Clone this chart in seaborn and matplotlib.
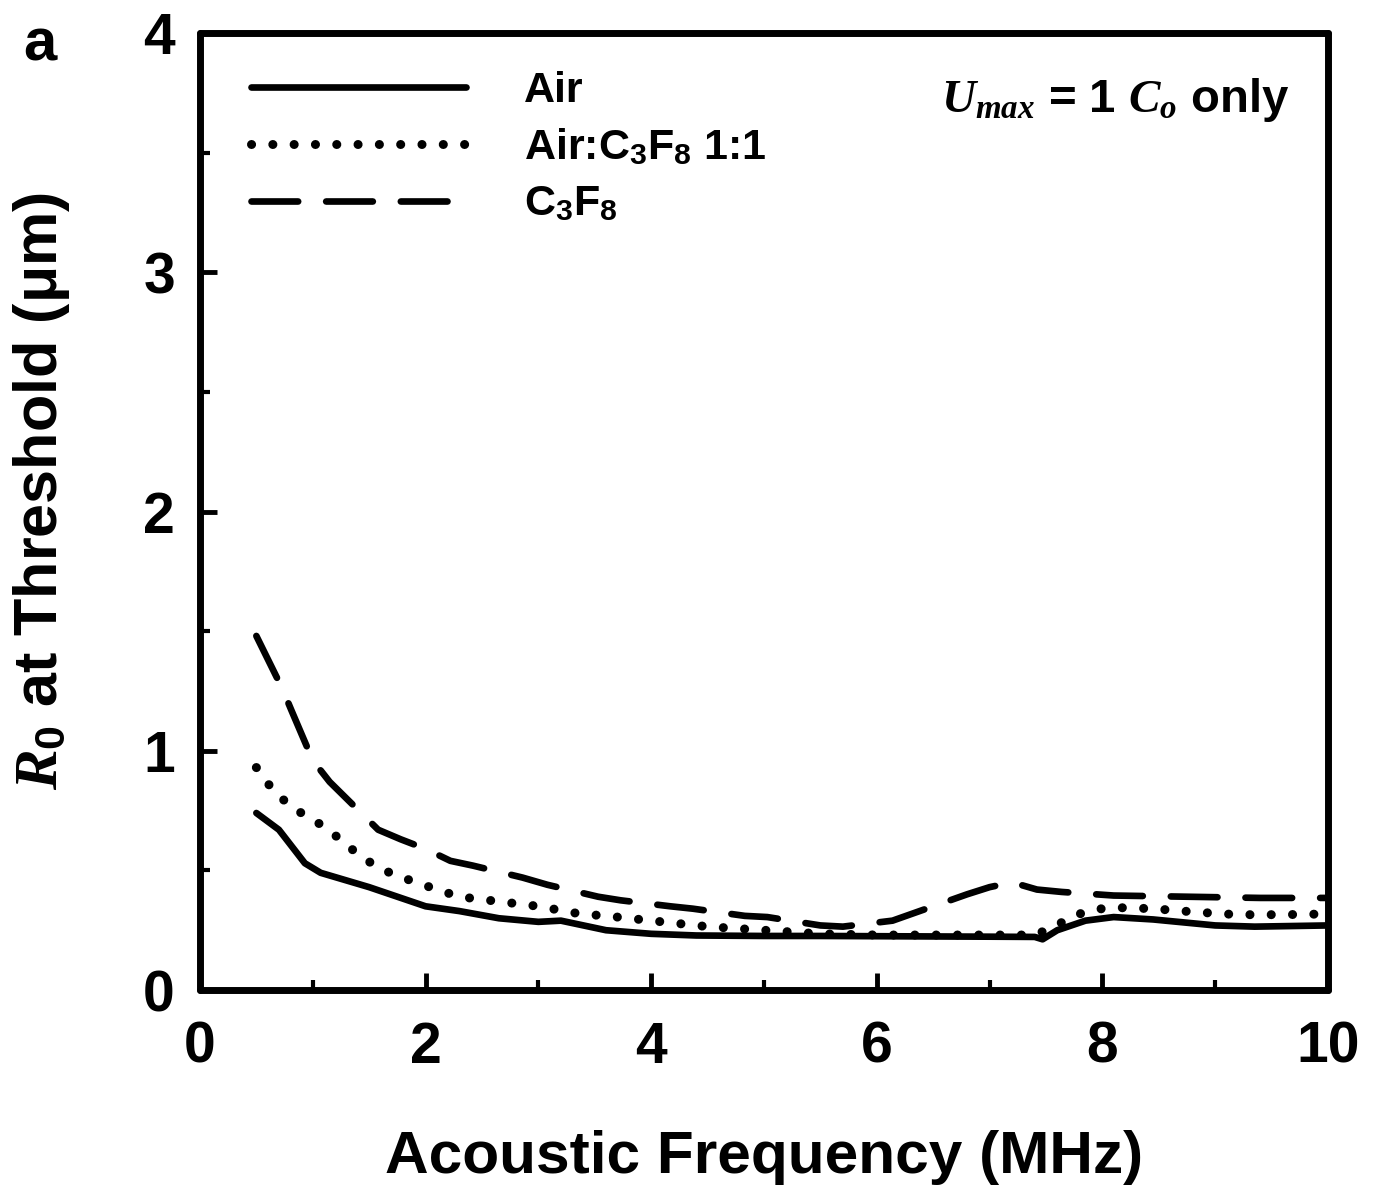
import numpy as np
import pandas as pd
import matplotlib
matplotlib.use('Agg')
import matplotlib.pyplot as plt
import seaborn as sns

# values
air_freq = [0.5, 0.7, 0.93, 1.07, 1.5, 2.0, 2.3, 2.65, 3.0, 3.2, 3.6, 4.0, 4.4,
            5.0, 5.5, 6.0, 6.5, 7.0, 7.4, 7.47, 7.6, 7.85, 8.1, 8.45, 9.0, 9.35, 10.0]
air_r0 = [0.74, 0.67, 0.53, 0.49, 0.43, 0.35, 0.33, 0.30, 0.285, 0.29, 0.25, 0.235, 0.228,
          0.226, 0.226, 0.225, 0.224, 0.223, 0.222, 0.212, 0.25, 0.29, 0.305, 0.295, 0.27, 0.265, 0.27]

mix_freq = [0.5, 0.64, 0.82, 1.0, 1.19, 1.37, 1.55, 1.73, 1.92, 2.1, 2.3, 2.65, 3.0, 3.35,
            3.7, 4.1, 4.5, 5.0, 5.5, 6.0, 6.5, 7.0, 7.4, 7.55, 7.75, 7.9, 8.1, 8.45, 8.85,
            9.2, 9.6, 10.0]
mix_r0 = [0.93, 0.84, 0.76, 0.715, 0.65, 0.58, 0.52, 0.48, 0.45, 0.42, 0.39, 0.37, 0.35, 0.32,
          0.305, 0.285, 0.265, 0.25, 0.235, 0.23, 0.23, 0.23, 0.23, 0.26, 0.31, 0.335, 0.345,
          0.34, 0.325, 0.315, 0.315, 0.318]

c3f8_freq = [0.5, 0.73, 0.81, 1.0, 1.15, 1.58, 1.78, 2.0, 2.22, 2.42, 2.86, 3.08, 3.53, 3.73,
             4.17, 4.37, 4.83, 5.03, 5.5, 5.7, 6.14, 6.32, 6.8, 7.0, 7.2, 7.42, 7.64, 8.1,
             8.75, 9.4, 10.0]
c3f8_r0 = [1.48, 1.26, 1.17, 0.96, 0.87, 0.67, 0.63, 0.59, 0.54, 0.52, 0.47, 0.44, 0.39, 0.375,
           0.35, 0.34, 0.31, 0.305, 0.27, 0.265, 0.29, 0.32, 0.40, 0.43, 0.45, 0.42, 0.41, 0.395,
           0.39, 0.385, 0.385]

labels = ['Air', 'Air:C$_3$F$_8$ 1:1', 'C$_3$F$_8$']

sns.set_style('ticks')
plt.rcParams['font.family'] = ['Liberation Sans', 'DejaVu Sans']
plt.rcParams['font.weight'] = 'bold'
plt.rcParams['mathtext.fontset'] = 'custom'
plt.rcParams['mathtext.rm'] = 'Liberation Sans:bold'
plt.rcParams['mathtext.bf'] = 'Liberation Sans:bold'
plt.rcParams['mathtext.it'] = 'Liberation Serif:italic'
for key in ['text.color', 'axes.labelcolor', 'xtick.color', 'ytick.color', 'axes.edgecolor']:
    plt.rcParams[key] = 'black'

fig = plt.figure(figsize=(13.78, 11.97), dpi=100)
ax = fig.add_axes([0.1451, 0.1729, 0.8186, 0.7995])

lw = 4.8
sns.lineplot(x=air_freq, y=air_r0, ax=ax, color='black', lw=lw, label=labels[0],
             sort=False, solid_capstyle='round', solid_joinstyle='round')
sns.lineplot(x=mix_freq, y=mix_r0, ax=ax, color='black', lw=6.5, label=labels[1],
             sort=False, linestyle=(0, (0.01, 2.35)), dash_capstyle='round')
sns.lineplot(x=c3f8_freq, y=c3f8_r0, ax=ax, color='black', lw=lw, label=labels[2],
             sort=False, linestyle=(0, (7, 4.2)), dash_capstyle='round')

ax.set_xlim(0, 10)
ax.set_ylim(0, 4)
ax.set_xticks([0, 2, 4, 6, 8, 10])
ax.set_xticks([1, 3, 5, 7, 9], minor=True)
ax.set_yticks([0, 1, 2, 3, 4])
ax.set_yticks([0.5, 1.5, 2.5, 3.5], minor=True)

for side in ['top', 'right', 'bottom', 'left']:
    ax.spines[side].set_visible(True)
    ax.spines[side].set_linewidth(5)
    ax.spines[side].set_capstyle('round')

ax.tick_params(which='major', direction='in', length=12, width=3.5, labelsize=41)
ax.tick_params(which='minor', direction='in', length=7, width=3)
ax.tick_params(axis='x', which='major', pad=22)
ax.tick_params(axis='y', which='major', pad=18)

ax.set_xlabel('Acoustic Frequency (MHz)', fontsize=43.5, fontweight='bold', labelpad=40)
ax.set_ylabel('$R_0$ at Threshold (μm)', fontsize=44, fontweight='bold')
ax.yaxis.set_label_coords(-0.113, 0.522)

leg = ax.legend(loc='upper left', bbox_to_anchor=(0.03, 0.978), frameon=False,
                fontsize=31, handlelength=5.0, handletextpad=1.35, labelspacing=0.38,
                borderaxespad=0)
for t in leg.get_texts():
    t.set_fontweight('bold')

ax.text(0.966, 0.93, '$U_{max}$ = 1 $C_o$ only', transform=ax.transAxes,
        ha='right', va='center', fontsize=34, fontweight='bold')

fig.text(0.029, 0.962, 'a', ha='center', va='center', fontsize=43, fontweight='bold')

fig.savefig('out.png', dpi=100)
